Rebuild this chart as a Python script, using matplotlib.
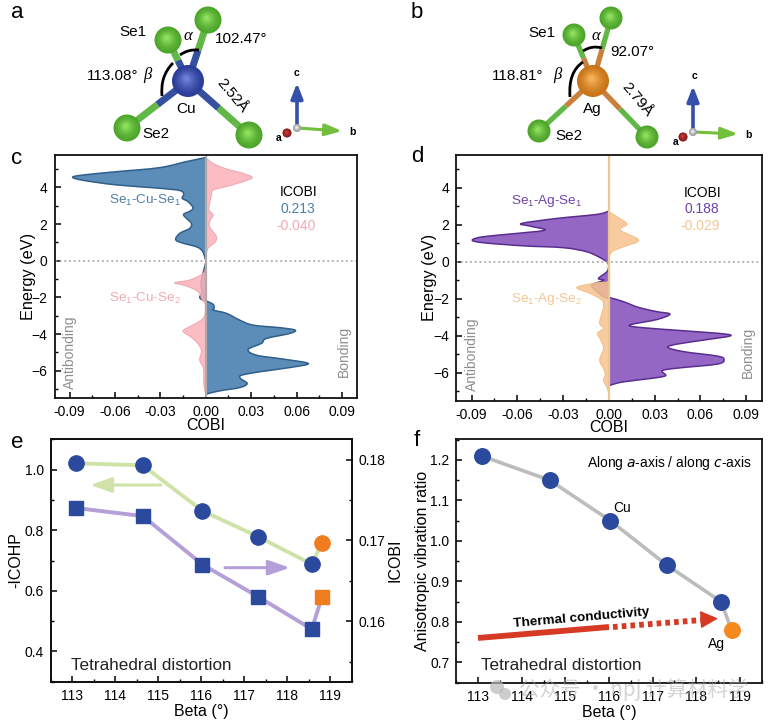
import matplotlib
matplotlib.use('Agg')
import matplotlib.pyplot as plt
from matplotlib.patches import Circle, PathPatch
from matplotlib.path import Path
from matplotlib.colors import to_rgb
from matplotlib.ticker import MultipleLocator, FormatStrFormatter

plt.rcParams['font.family'] = ['Liberation Sans', 'DejaVu Sans']
plt.rcParams['mathtext.default'] = 'regular'
plt.rcParams['axes.linewidth'] = 1.3
plt.rcParams['axes.edgecolor'] = '#111111'

W, H = 773, 720

# panel c, energy (eV) and COBI
c_se1_energy = [5.62, 5.4, 5.07, 4.85, 4.67, 4.55, 4.38, 4.13, 3.95, 3.82, 3.62, 3.4, 3.22, 2.89, 2.71, 2.53,
                2.31, 2.04, 1.76, 1.49, 1.16, 0.98, 0.76, 0.53, 0.13, -0.1, -0.8, -1.33, -1.7, -2.0, -2.15,
                -2.18, -2.38, -2.6, -2.69, -2.87, -3.24, -3.51, -3.65, -3.78, -3.96, -4.24, -4.5, -4.84,
                -5.15, -5.36, -5.6, -5.82, -6.05, -6.24, -6.42, -6.69, -6.91, -7.09, -7.24, -7.3]
c_se1_cobi = [0, -0.0128, -0.0305, -0.059, -0.081, -0.088, -0.081, -0.059, -0.0305, -0.017, -0.0146, -0.0155,
              -0.0117, -0.0084, -0.0102, -0.0146, -0.0128, -0.0095, -0.0106, -0.0172, -0.0199, -0.016, -0.0062,
              -0.0022, -0.0004, 0, -0.0022, -0.0033, -0.0024, -0.004, -0.0018, 0, 0.0049, 0.0055, 0.0049, 0.0137,
              0.0225, 0.0313, 0.049, 0.059, 0.0556, 0.04, 0.0369, 0.028, 0.0336, 0.0512, 0.0678, 0.0556, 0.0358,
              0.0236, 0.023, 0.0274, 0.0225, 0.0093, 0.0015, 0]
c_se2_energy = [5.62, 5.3, 5.0, 4.76, 4.53, 4.31, 4.04, 3.85, 3.58, 3.13, 2.76, 2.49, 2.22, 1.85, 1.31, 1.0, 0.67,
                0.13, -0.3, -0.69, -1.05, -1.2, -1.38, -1.69, -2.15, -2.3, -2.7, -3.15, -3.5, -3.82, -4.11, -4.42,
                -4.87, -5.42, -5.78, -6.24, -6.78, -7.2]
c_se2_cobi = [0, 0.0049, 0.0137, 0.0247, 0.0307, 0.0247, 0.0137, 0.0049, 0.0038, 0.0026, 0.0022, 0.0049, 0.0031,
              0.0026, 0.0071, 0.006, 0.0015, 0, 0, -0.0018, -0.0106, -0.0205, -0.0128, -0.005, -0.0022, -0.0005, 0,
              -0.0018, -0.0084, -0.015, -0.0106, -0.0062, -0.0029, -0.004, -0.0018, -0.0013, -0.0013, 0]

# panel d
d_se1_energy = [2.74, 2.56, 2.34, 2.07, 1.93, 1.71, 1.53, 1.35, 1.17, 1.03, 0.86, 0.76, 0.54, 0.22, -0.04, -0.27,
                -0.54, -0.9, -1.0, -1.26, -1.53, -1.89, -2.0, -1.95, -2.16, -2.47, -2.7, -2.83, -3.12, -3.42, -3.57,
                -3.73, -3.96, -4.23, -4.45, -4.63, -4.86, -5.1, -5.28, -5.53, -5.75, -5.89, -6.16, -6.31, -6.49,
                -6.67, -6.75]
d_se1_cobi = [0, -0.0079, -0.0342, -0.0572, -0.0518, -0.0419, -0.0605, -0.0825, -0.0895, -0.0825, -0.0561, -0.0298,
              -0.0145, -0.0057, -0.0009, -0.0002, -0.0013, -0.0068, -0.0035, -0.0112, -0.009, -0.0035, 0, 0.0009,
              0.0096, 0.0195, 0.0316, 0.04, 0.0316, 0.0136, 0.0228, 0.0491, 0.0798, 0.0623, 0.0447, 0.0386, 0.0491,
              0.0711, 0.0754, 0.0711, 0.0447, 0.0349, 0.0371, 0.0272, 0.0096, 0.0009, 0]
d_se2_energy = [2.7, 2.43, 2.04, 1.71, 1.17, 0.81, 0.54, 0.1, -1.0, -1.13, -1.39, -1.71, -2.07, -2.43, -2.79, -3.33,
                -3.6, -3.87, -4.23, -4.68, -5.32, -5.77, -6.13, -6.4, -6.85, -7.2]
d_se2_cobi = [0, 0.0053, 0.0118, 0.0075, 0.0195, 0.0096, 0.002, 0, 0, -0.0079, -0.021, -0.0123, -0.0046, -0.0035,
              -0.0046, -0.0061, -0.0035, -0.0075, -0.0053, -0.0035, -0.0061, -0.0035, -0.0024, -0.0035, -0.0009, 0]

# panels e and f, Cu compounds then the Ag compound
beta = [113.08, 114.64, 116.03, 117.33, 118.57, 118.81]
icohp = [1.021, 1.014, 0.864, 0.778, 0.688, 0.758]
icobi = [0.174, 0.173, 0.167, 0.163, 0.159, 0.163]
vib_ratio = [1.21, 1.15, 1.05, 0.94, 0.85, 0.78]

fig = plt.figure(figsize=(W / 100, H / 100), dpi=100)


def px_axes(left, top, right, bottom):
    return fig.add_axes([left / W, 1 - bottom / H, (right - left) / W, (bottom - top) / H])


def style_ticks(ax, size=10):
    ax.tick_params(which='major', direction='in', length=4.5, width=1.1, labelsize=size, pad=5)
    ax.tick_params(which='minor', direction='in', length=2.5, width=1.0)


def smooth_fill(ax, energy, cobi, fill, edge, lw, alpha=1.0):
    # rounded outline through the read points, closed along COBI = 0
    pts = list(zip(cobi, energy))
    verts = [pts[0]]
    codes = [Path.MOVETO]
    for i in range(len(pts) - 1):
        p0 = pts[max(i - 1, 0)]
        p1 = pts[i]
        p2 = pts[i + 1]
        p3 = pts[min(i + 2, len(pts) - 1)]
        verts.append((p1[0] + (p2[0] - p0[0]) / 6, p1[1] + (p2[1] - p0[1]) / 6))
        verts.append((p2[0] - (p3[0] - p1[0]) / 6, p2[1] - (p3[1] - p1[1]) / 6))
        verts.append(p2)
        codes += [Path.CURVE4] * 3
    verts.append(pts[0])
    codes.append(Path.CLOSEPOLY)
    ax.add_patch(PathPatch(Path(verts, codes), fc=fill, ec=edge, lw=lw, alpha=alpha))


def cobi_panel(box, en1, cobi1, en2, cobi2, fill1, edge1, fill2, edge2, axis_col, ylim):
    ax = px_axes(*box)
    smooth_fill(ax, en1, cobi1, fill1, edge1, 1.1)
    smooth_fill(ax, en2, cobi2, fill2, edge2, 0.8, alpha=0.85)
    ax.axvline(0, color=axis_col, lw=1.6)
    ax.axhline(0, color='#aaaaaa', lw=1.3, ls=(0, (1, 1.6)))
    ax.set_xlim(-0.1, 0.1)
    ax.set_ylim(*ylim)
    ax.xaxis.set_major_locator(MultipleLocator(0.03))
    ax.xaxis.set_minor_locator(MultipleLocator(0.015))
    ax.xaxis.set_major_formatter(FormatStrFormatter('%.2f'))
    ax.yaxis.set_major_locator(MultipleLocator(2))
    ax.yaxis.set_minor_locator(MultipleLocator(1))
    style_ticks(ax)
    ax.set_xlabel('COBI', fontsize=11.5, labelpad=-1)
    ax.set_ylabel('Energy (eV)', fontsize=11.7)
    ax.yaxis.set_label_coords(-0.062, 0.5)
    return ax


ax_c = cobi_panel((54.5, 155, 357, 398), c_se1_energy, c_se1_cobi, c_se2_energy, c_se2_cobi,
                  '#5b8db8', '#2f5f8a', '#fcb1ba', '#eda3ac', '#b5a8a8', (-7.48, 5.76))
ax_d = cobi_panel((456.3, 155, 761.5, 400.7), d_se1_energy, d_se1_cobi, d_se2_energy, d_se2_cobi,
                  '#9467c4', '#5a2d91', '#f8c48f', '#eeb97f', '#efc592', (-7.51, 5.77))

# panel e
ax_e = px_axes(50.7, 439.3, 351.7, 681.7)
ax_e2 = ax_e.twinx()
ax_e.plot(beta, icohp, color='#cfe3a8', lw=2.8, zorder=2)
ax_e.plot(beta[:5], icohp[:5], 'o', color='#2b4a9e', ms=11, zorder=3)
ax_e.plot(beta[5:], icohp[5:], 'o', color='#ef7d1e', ms=11, zorder=3)
ax_e2.plot(beta, icobi, color='#b49fd8', lw=2.8, zorder=2)
ax_e2.plot(beta[:5], icobi[:5], 's', color='#2b4a9e', ms=9.6, zorder=3)
ax_e2.plot(beta[5:], icobi[5:], 's', color='#ef7d1e', ms=9.6, zorder=3)
ax_e.set_xlim(112.5, 119.5)
ax_e.set_ylim(0.3, 1.1)
ax_e2.set_ylim(0.1525, 0.1825)
ax_e.xaxis.set_major_locator(MultipleLocator(1))
ax_e.xaxis.set_minor_locator(MultipleLocator(0.5))
ax_e.yaxis.set_major_locator(MultipleLocator(0.2))
ax_e.yaxis.set_minor_locator(MultipleLocator(0.1))
ax_e2.yaxis.set_major_locator(MultipleLocator(0.01))
ax_e2.yaxis.set_minor_locator(MultipleLocator(0.005))
ax_e.yaxis.set_major_formatter(FormatStrFormatter('%.1f'))
ax_e2.yaxis.set_major_formatter(FormatStrFormatter('%.2f'))
style_ticks(ax_e)
style_ticks(ax_e2)
ax_e.set_xlabel('Beta (°)', fontsize=11.5, labelpad=1)
ax_e.set_ylabel('-ICOHP', fontsize=11.5)
ax_e.yaxis.set_label_coords(-0.09, 0.5)
ax_e2.set_ylabel('ICOBI', fontsize=11.5)
ax_e2.yaxis.set_label_coords(1.12, 0.5)

# panel f
ax_f = px_axes(456.3, 439.3, 761.7, 682.7)
ax_f.plot(beta, vib_ratio, color='#bcbcbc', lw=2.6, zorder=2)
ax_f.plot(beta[:5], vib_ratio[:5], 'o', color='#2b4a9e', ms=11.2, zorder=3)
ax_f.plot(beta[5:], vib_ratio[5:], 'o', color='#f4891f', ms=11.2, zorder=3)
ax_f.set_xlim(112.5, 119.5)
ax_f.set_ylim(0.65, 1.251)
ax_f.xaxis.set_major_locator(MultipleLocator(1))
ax_f.xaxis.set_minor_locator(MultipleLocator(0.5))
ax_f.yaxis.set_major_locator(MultipleLocator(0.1))
ax_f.yaxis.set_minor_locator(MultipleLocator(0.05))
ax_f.yaxis.set_major_formatter(FormatStrFormatter('%.1f'))
style_ticks(ax_f)
ax_f.set_xlabel('Beta (°)', fontsize=11.5, labelpad=1)
ax_f.set_ylabel('Anisotropic vibration ratio', fontsize=11.5)
ax_f.yaxis.set_label_coords(-0.085, 0.5)

# overlay in pixel coordinates for the structures and annotations
art = fig.add_axes([0, 0, 1, 1], zorder=10)
art.set_xlim(0, W)
art.set_ylim(H, 0)
art.axis('off')


def label(x, y, s, size=10, color='black', **kw):
    kw.setdefault('ha', 'center')
    kw.setdefault('va', 'center')
    art.text(x, y, s, fontsize=size, color=color, **kw)


def sphere(x, y, r, dark, light, z=5):
    dark, light = to_rgb(dark), to_rgb(light)
    steps = 14
    for i in range(steps):
        t = i / (steps - 1)
        col = tuple(d + (l - d) * t ** 1.5 for d, l in zip(dark, light))
        rr = r * (1 - 0.85 * t)
        art.add_patch(Circle((x - 0.1 * r * t, y - 0.15 * r * t), rr, color=col, lw=0, zorder=z))


def bond(p, q, col1, col2, lw, frac=0.5):
    mx, my = p[0] + (q[0] - p[0]) * frac, p[1] + (q[1] - p[1]) * frac
    art.plot([p[0], mx], [p[1], my], color=col1, lw=lw, solid_capstyle='butt', zorder=3)
    art.plot([mx, q[0]], [my, q[1]], color=col2, lw=lw, solid_capstyle='butt', zorder=3)


def curve(p0, p1, p2):
    path = Path([p0, p1, p2], [Path.MOVETO, Path.CURVE3, Path.CURVE3])
    art.add_patch(PathPatch(path, fc='none', ec='black', lw=2, zorder=4))


def arrow(start, tip, col, lw, head_len, head_half):
    style = '-|>,head_width=%.2f,head_length=%.2f' % (head_half / 10, head_len / 10)
    art.annotate('', xy=tip, xytext=start, zorder=6,
                 arrowprops=dict(arrowstyle=style, color=col, lw=lw, mutation_scale=10, shrinkA=0, shrinkB=0))


def triad(o, c_tip, b_tip, a_atom):
    arrow(o, c_tip, '#3550a8', 2.6, 9, 3.5)
    arrow(o, b_tip, '#72bf3c', 2.2, 10, 3.5)
    sphere(a_atom[0], a_atom[1], 4.5, '#8d1c1c', '#c8403c', z=7)
    sphere(o[0], o[1], 4, '#a0a0a0', '#f2f2f2', z=7)


def structure(metal, tip, se1, se2, right, metal_r, se_r, col_bond, dark, light, lw):
    for atom, r in ((tip, se_r), (se1, se_r), (se2, se_r), (right, se_r)):
        bond(atom, metal, '#62b846', col_bond, lw)
        sphere(atom[0], atom[1], r, '#4da52b', '#8fe05e')
    sphere(metal[0], metal[1], metal_r, dark, light, z=5)


structure((188, 81), (208, 20), (168, 40), (127, 128), (249, 135), 16, 13.5, '#35509f', '#2b3d98', '#6c7fd8', 5)
curve((180, 55), (188, 49), (199, 50))
curve((173, 63), (160, 76), (162, 96))
triad((297, 128), (297, 83), (342, 131), (287, 133))

structure((593, 81), (611, 18), (574, 35), (539, 131), (647, 137), 16, 11.5, '#c9803c', '#c87418', '#f8b25a', 3.8)
curve((583, 51), (592, 45), (602, 48))
curve((583, 62), (568, 72), (570, 97))
triad((693, 132), (693, 86), (738, 134), (683, 137))

letter = 16
label(17, 13, 'a', letter)
label(417, 12, 'b', letter)
label(17, 158, 'c', letter)
label(417, 156, 'd', letter)
label(17, 443, 'e', letter)
label(417, 440, 'f', letter)

# structure labels
label(133, 32, 'Se1', 11)
label(241, 39, '102.47°', 11)
label(113, 76, '113.08°', 11)
label(186, 109, 'Cu', 11)
label(156, 134, 'Se2', 11)
label(232, 96, '2.52Å', 11, rotation=-50)
label(188, 36, 'α', 12, family='Liberation Serif', style='italic')
label(147, 75, 'β', 12, family='Liberation Serif', style='italic')
label(542, 33, 'Se1', 11)
label(632, 52, '92.07°', 11)
label(518, 76, '118.81°', 11)
label(592, 109, 'Ag', 11)
label(569, 136, 'Se2', 11)
label(637, 100, '2.79Å', 11, rotation=-50)
label(596, 36, 'α', 12, family='Liberation Serif', style='italic')
label(557, 75, 'β', 12, family='Liberation Serif', style='italic')
for x, y, s in ((297, 73, 'c'), (352, 132, 'b'), (279, 138, 'a'), (694, 76, 'c'), (748, 135, 'b'), (676, 142, 'a')):
    label(x, y, s, 7.5, fontweight='bold')

# panel c and d annotations
label(145, 200, 'Se$_1$-Cu-Se$_1$', 9.7, '#4f7fa5')
label(145, 298, 'Se$_1$-Cu-Se$_2$', 9.7, '#f3a9b3')
label(299, 192, 'ICOBI', 10)
label(298, 209, '0.213', 10, '#4f7fa5')
label(296, 226, '-0.040', 10, '#f3a9b3')
label(70, 352, 'Antibonding', 10, '#8f8f8f', rotation=90)
label(344, 351, 'Bonding', 10, '#8f8f8f', rotation=90)
label(547, 201, 'Se$_1$-Ag-Se$_1$', 9.7, '#6f42a8')
label(547, 299, 'Se$_1$-Ag-Se$_2$', 9.7, '#f3c692')
label(703, 193, 'ICOBI', 10)
label(702, 209, '0.188', 10, '#6f42a8')
label(700, 226, '-0.029', 10, '#f3c692')
label(472, 354, 'Antibonding', 10, '#8f8f8f', rotation=90)
label(748, 352, 'Bonding', 10, '#8f8f8f', rotation=90)

# panel e and f annotations
arrow((161, 485), (90, 485), '#cfe3a8', 2.2, 13, 4.5)
arrow((225, 567.7), (290, 567.7), '#b49fd8', 2.2, 13, 4.5)
label(71, 665, 'Tetrahedral distortion', 12.3, '#222222', ha='left')
label(481, 665, 'Tetrahedral distortion', 12.3, '#222222', ha='left')
label(669, 463, 'Along $\\mathit{a}$-axis / along $\\mathit{c}$-axis', 10)
label(622, 508, 'Cu', 10)
label(716, 644, 'Ag', 10)
art.plot([478, 609], [638, 627], color='#d63a25', lw=4.2, solid_capstyle='butt', zorder=6)
art.plot([613, 702], [627, 620], color='#d63a25', lw=4.2, ls=(0, (0.8, 0.7)), zorder=6)
arrow((702, 619.5), (718, 618.5), '#d63a25', 1, 11, 5.5)
label(581, 618, 'Thermal conductivity', 9.7, rotation=5, fontweight='bold')

# watermark
art.add_patch(Circle((497, 687), 7, color='#b8b8b8', alpha=0.7, lw=0, zorder=8))
art.add_patch(Circle((505, 694), 6, color='#b8b8b8', alpha=0.7, lw=0, zorder=8))
art.text(519, 690, '公众号 · npj 计算材料学', fontsize=14.8, color='#a8a8a8', alpha=0.5, ha='left', va='center',
         family=['Noto Sans CJK SC', 'DejaVu Sans'], zorder=8)

fig.savefig('out.png', dpi=100)
